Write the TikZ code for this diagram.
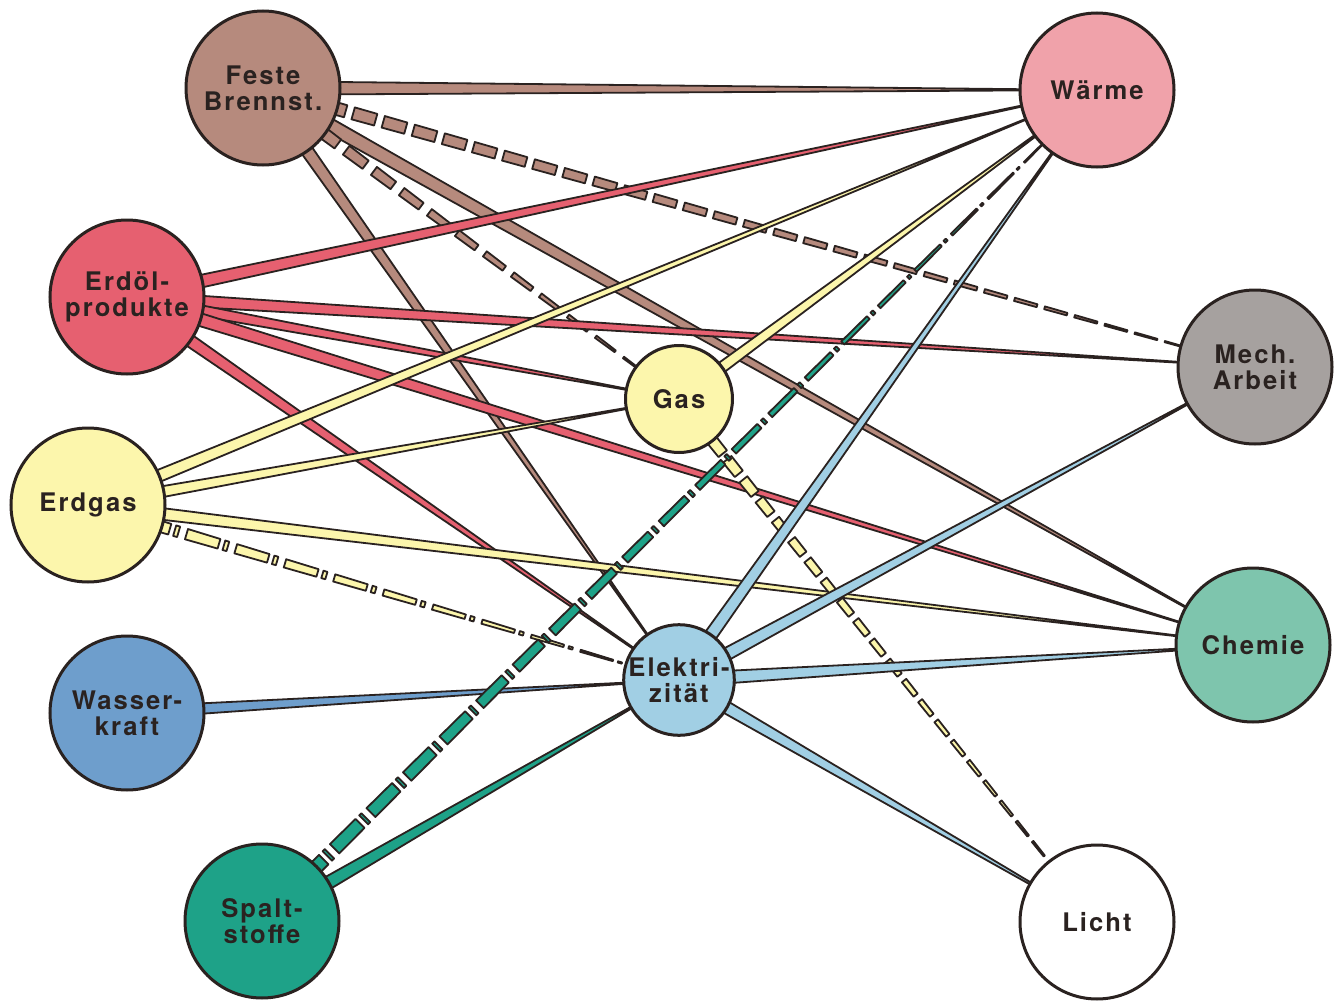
\documentclass[tikz,border=0pt]{standalone}
\usepackage{fontspec}
\newfontfamily\labelfont{TeX Gyre Heros}[LetterSpace=8]
\usetikzlibrary{calc,backgrounds}

\definecolor{ink}{RGB}{42,34,32}
\definecolor{cFeste}{RGB}{182,138,125}
\definecolor{cWaerme}{RGB}{240,162,170}
\definecolor{cErdoel}{RGB}{230,96,112}
\definecolor{cMech}{RGB}{166,161,159}
\definecolor{cGas}{RGB}{252,246,172}
\definecolor{cChemie}{RGB}{126,197,173}
\definecolor{cWasser}{RGB}{110,158,204}
\definecolor{cElektro}{RGB}{161,207,228}
\definecolor{cSpalt}{RGB}{30,162,136}

\tikzset{
  carrier/.style={circle, draw=ink, line width=1.5pt, minimum size=77pt, inner sep=0pt,
    align=center, text=ink, font={\labelfont\bfseries\fontsize{12.8}{12.8}\selectfont}},
  hub/.style={carrier, minimum size=53.5pt},
  flow/.style={draw=ink, line width=0.9pt, line join=round},
}

% tapered flow: [half width in pt] source, target, colour
\newcommand{\energyflow}[4][3.4]{%
  \filldraw[flow, fill=#4] ($(#2)!#1pt!90:(#3)$) -- (#3.center) -- ($(#2)!#1pt!-90:(#3)$) -- cycle;}

% broken tapered flow: [half width] source, target, colour, periods, pieces of a period
\newcommand{\brokenflow}[6][3.4]{%
  \foreach \k in {1,...,#5}{%
    \foreach \da/\db in {#6}{%
      \pgfmathsetmacro\ta{(\k-1+\da)/#5}%
      \pgfmathsetmacro\tb{(\k-1+\db)/#5}%
      \pgfmathsetmacro\wa{#1*(1-\ta)}%
      \pgfmathsetmacro\wb{#1*(1-\tb)}%
      \filldraw[flow, fill=#4] ($(#2)!\ta!(#3)!\wa pt!90:(#3)$) -- ($(#2)!\tb!(#3)!\wb pt!90:(#3)$)
        -- ($(#2)!\tb!(#3)!\wb pt!-90:(#3)$) -- ($(#2)!\ta!(#3)!\wa pt!-90:(#3)$) -- cycle;
    }}}

\begin{document}
\begin{tikzpicture}[x=0.5pt,y=-0.5pt]
\useasboundingbox (0,0) rectangle (1341,1001);

% sources
\node[carrier, fill=cFeste] (feste) at (263,88) {Feste\\Brennst.};
\node[carrier, fill=cErdoel] (erdoel) at (127,297) {Erdöl-\\produkte};
\node[carrier, fill=cGas] (erdgas) at (88,505) {Erdgas};
\node[carrier, fill=cWasser] (wasser) at (127,713) {Wasser-\\kraft};
\node[carrier, fill=cSpalt] (spalt) at (262,921) {Spalt-\\stoffe};
% secondary
\node[hub, fill=cGas] (gas) at (679,399) {Gas};
\node[hub, fill=cElektro] (elektro) at (679,680) {Elektri-\\zität};
% uses
\node[carrier, fill=cWaerme] (waerme) at (1097,90) {Wärme};
\node[carrier, fill=cMech] (mech) at (1255,367) {Mech.\\Arbeit};
\node[carrier, fill=cChemie] (chemie) at (1253,645) {Chemie};
\node[carrier, fill=white] (licht) at (1097,922) {Licht};

\begin{pgfonlayer}{background}
\energyflow{feste}{waerme}{cFeste}
\energyflow[3.8]{feste}{chemie}{cFeste}
\energyflow{feste}{elektro}{cFeste}
\brokenflow{feste}{mech}{cFeste}{33}{0/0.75}
\brokenflow{feste}{gas}{cFeste}{15}{0/0.7}

\energyflow{erdoel}{waerme}{cErdoel}
\energyflow[3.1]{erdoel}{mech}{cErdoel}
\energyflow[3.1]{erdoel}{gas}{cErdoel}
\energyflow{erdoel}{chemie}{cErdoel}
\energyflow{erdoel}{elektro}{cErdoel}

\energyflow[3.2]{erdgas}{waerme}{cGas}
\energyflow[3.1]{erdgas}{gas}{cGas}
\energyflow[3.1]{erdgas}{chemie}{cGas}
\brokenflow[3.2]{erdgas}{elektro}{cGas}{12}{0/0.66,0.76/0.84}

\energyflow[3]{gas}{waerme}{cGas}
\brokenflow[3]{gas}{licht}{cGas}{26}{0/0.72}

\energyflow[3]{wasser}{elektro}{cWasser}

\energyflow[3.8]{spalt}{elektro}{cSpalt}
\brokenflow[3.6]{spalt}{waerme}{cSpalt}{23}{0/0.7,0.8/0.86}

\energyflow{elektro}{waerme}{cElektro}
\energyflow{elektro}{mech}{cElektro}
\energyflow{elektro}{chemie}{cElektro}
\energyflow{elektro}{licht}{cElektro}
\end{pgfonlayer}
\end{tikzpicture}
\end{document}
